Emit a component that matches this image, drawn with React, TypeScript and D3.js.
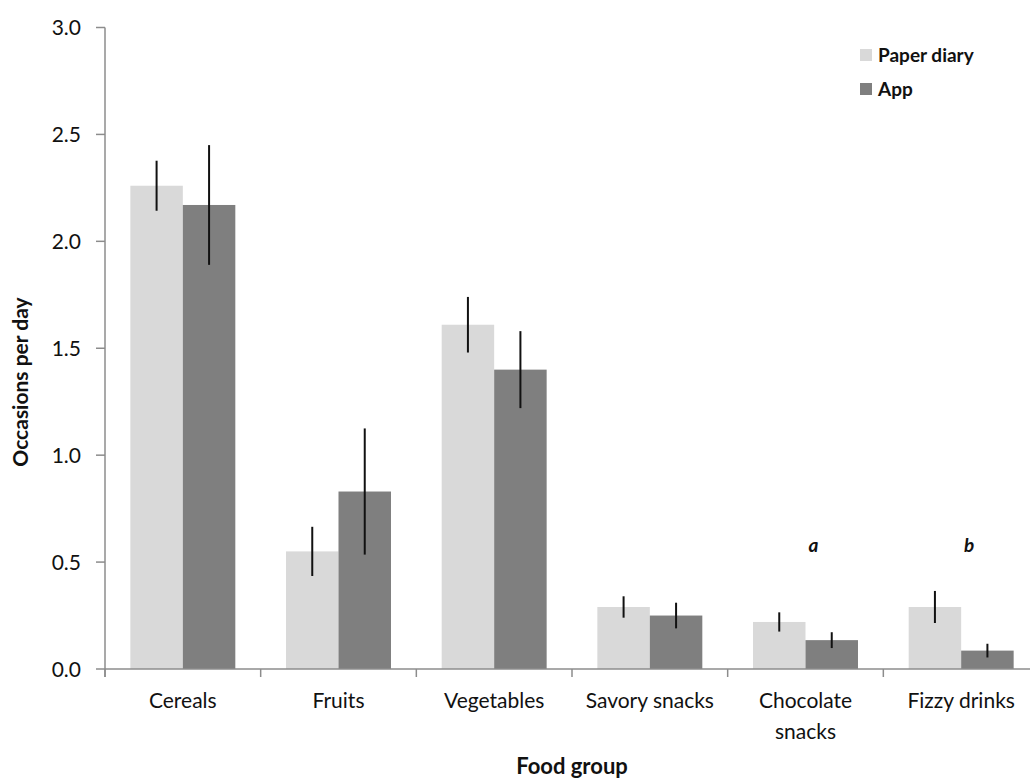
import React from 'react';
import * as d3 from 'd3';

const categories = ['Cereals', 'Fruits', 'Vegetables', 'Savory snacks', 'Chocolate snacks', 'Fizzy drinks'];
const categoryLines = [['Cereals'], ['Fruits'], ['Vegetables'], ['Savory snacks'], ['Chocolate', 'snacks'], ['Fizzy drinks']];
const seriesNames = ['Paper diary', 'App'];
const seriesColors = ['#d9d9d9', '#7f7f7f'];
const paperValues = [2.26, 0.55, 1.61, 0.29, 0.22, 0.29];
const paperErrors = [0.117, 0.115, 0.13, 0.05, 0.045, 0.075];
const appValues = [2.17, 0.83, 1.40, 0.25, 0.135, 0.086];
const appErrors = [0.28, 0.295, 0.18, 0.06, 0.037, 0.032];
const yTicks = [0, 0.5, 1.0, 1.5, 2.0, 2.5, 3.0];
const annotations = [
  { category: 'Chocolate snacks', label: 'a', value: 0.58 },
  { category: 'Fizzy drinks', label: 'b', value: 0.58 },
];

const W = 1030;
const H = 779;
const FONT = 'Lato, "Open Sans", sans-serif';

export default function App() {
  const x0 = d3.scaleBand<string>().domain(categories).range([105, 1039]).paddingInner(0).paddingOuter(0);
  const x1 = d3.scaleBand<string>().domain(seriesNames).range([0, x0.bandwidth()]).paddingInner(0).paddingOuter(0.483);
  const y = d3.scaleLinear().domain([0, 3]).range([669, 27.5]);

  const series = [
    { name: seriesNames[0], values: paperValues, errors: paperErrors, color: seriesColors[0] },
    { name: seriesNames[1], values: appValues, errors: appErrors, color: seriesColors[1] },
  ];

  const axisColor = '#8c8c8c';
  const textColor = '#111';
  const boundaries = categories.map((c) => x0(c)!).concat([x0.range()[1]]);

  return (
    <div style={{ position: 'absolute', left: 0, top: 0 }}>
      <svg width={W} height={H} style={{ display: 'block', background: '#fff' }} fontFamily={FONT}>
        {/* bars */}
        {series.map((s) => (
          <g key={s.name}>
            {categories.map((c, i) => (
              <rect
                key={c}
                x={x0(c)! + x1(s.name)!}
                y={y(s.values[i])}
                width={x1.bandwidth()}
                height={y(0) - y(s.values[i])}
                fill={s.color}
              />
            ))}
          </g>
        ))}

        {/* error bars */}
        {series.map((s) => (
          <g key={s.name + '-err'}>
            {categories.map((c, i) => {
              const cx = x0(c)! + x1(s.name)! + x1.bandwidth() / 2;
              return (
                <line
                  key={c}
                  x1={cx}
                  x2={cx}
                  y1={y(s.values[i] + s.errors[i])}
                  y2={y(s.values[i] - s.errors[i])}
                  stroke="#111"
                  strokeWidth={2}
                />
              );
            })}
          </g>
        ))}

        {/* y axis */}
        <line x1={105} x2={105} y1={y(3)} y2={677} stroke={axisColor} strokeWidth={1.5} />
        {yTicks.map((t) => (
          <g key={t}>
            <line x1={96} x2={105} y1={y(t)} y2={y(t)} stroke={axisColor} strokeWidth={1.5} />
            <text x={81} y={y(t)} dy="0.36em" textAnchor="end" fontSize={21} fill={textColor}>
              {d3.format('.1f')(t)}
            </text>
          </g>
        ))}

        {/* x axis */}
        <line x1={105} x2={1039} y1={y(0)} y2={y(0)} stroke={axisColor} strokeWidth={1.5} />
        {boundaries.map((b, i) => (
          <line key={i} x1={b} x2={b} y1={y(0)} y2={677} stroke={axisColor} strokeWidth={1.5} />
        ))}
        {categories.map((c, i) => (
          <text key={c} x={x0(c)! + x0.bandwidth() / 2} y={708} textAnchor="middle" fontSize={21} fill={textColor}>
            {categoryLines[i].map((line, j) => (
              <tspan key={j} x={x0(c)! + x0.bandwidth() / 2} dy={j === 0 ? 0 : 31}>
                {line}
              </tspan>
            ))}
          </text>
        ))}

        {/* annotations */}
        {annotations.map((a) => (
          <text
            key={a.label}
            x={x0(a.category)! + x0.bandwidth() / 2 + 8}
            y={y(a.value)}
            dy="0.36em"
            textAnchor="middle"
            fontSize={19}
            fontStyle="italic"
            fontWeight="bold"
            fill={textColor}
          >
            {a.label}
          </text>
        ))}

        {/* axis titles */}
        <text
          transform={`translate(28, 382) rotate(-90)`}
          textAnchor="middle"
          fontSize={21}
          fontWeight="bold"
          fill={textColor}
        >
          Occasions per day
        </text>
        <text x={572} y={774} textAnchor="middle" fontSize={22} fontWeight="bold" fill={textColor}>
          Food group
        </text>

        {/* legend */}
        {series.map((s, i) => (
          <g key={s.name + '-leg'} transform={`translate(860, ${49 + i * 34})`}>
            <rect x={0} y={0} width={12} height={12} fill={s.color} />
            <text x={18} y={6} dy="0.36em" fontSize={19} fontWeight="bold" fill={textColor}>
              {s.name}
            </text>
          </g>
        ))}
      </svg>
    </div>
  );
}
